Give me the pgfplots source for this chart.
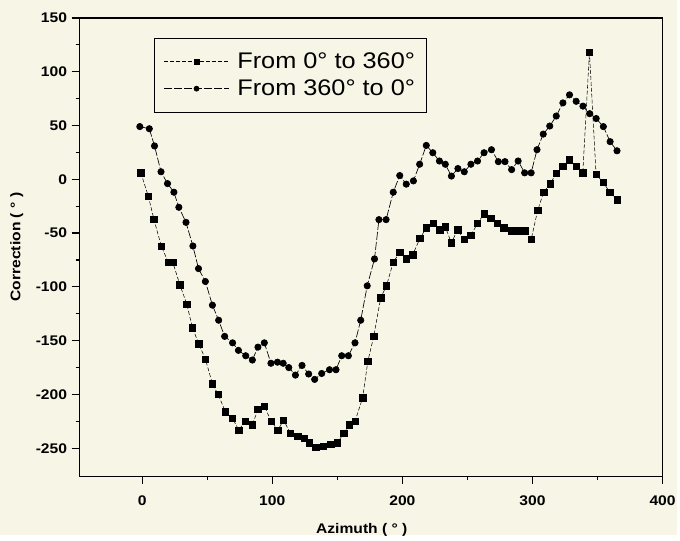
\documentclass[border=0pt]{standalone}
\usepackage{graphicx}
\usepackage{fontspec}
\setmainfont{Liberation Sans}
\usepackage{pgfplots}
\pgfplotsset{compat=1.18}
\definecolor{bgcream}{RGB}{247,245,230}
\newcommand{\sx}[1]{\scalebox{1.12}[1]{#1}}
\begin{document}
\begin{tikzpicture}
\fill[bgcream] (-60pt,-44.25pt) rectangle (450pt,358.5pt);
\begin{axis}[
  scale only axis,
  width=438.75pt, height=345pt,
  xmin=-48, xmax=400, ymin=-276, ymax=150,
  xtick={0,100,200,300,400},
  ytick={-250,-200,-150,-100,-50,0,50,100,150},
  minor x tick num=1, minor y tick num=1,
  tick align=outside,
  xtick pos=left, ytick pos=left,
  major tick length=6pt, minor tick length=3pt,
  axis line style={line width=1pt},
  every tick/.style={line width=0.9pt, black},
  /pgf/number format/assume math mode=true,
  tick label style={font=\fontsize{10.5}{12}\selectfont\bfseries},
  xticklabel style={yshift=-5.5pt},
  xticklabel={\sx{\pgfmathprintnumber{\tick}}},
  yticklabel={\sx{\pgfmathprintnumber{\tick}}},
  xlabel={\sx{Azimuth ( ° )}},
  ylabel={\sx{Correction ( ° )}},
  label style={font=\fontsize{10.5}{12}\selectfont\bfseries},
  xlabel style={at={(axis description cs:0.484,-0.117)}, anchor=center},
  ylabel style={at={(axis description cs:-0.108,0.5)}, anchor=center},
  legend style={at={(axis description cs:0.128,0.957)}, anchor=north west,
    draw=black, line width=0.7pt, fill=none,
    font=\fontsize{17}{19.5}\selectfont, inner xsep=7pt, inner ysep=9pt,
    row sep=3pt},
  legend cell align=left,
  legend image code/.code={\draw[#1, mark size=1.9pt, mark repeat=2, mark phase=2] plot coordinates {(0cm,0cm) (0.85cm,0cm) (1.7cm,0cm)}; \path (1.85cm,0cm);},
]
\addplot[black, line width=0.4pt, dash pattern=on 3pt off 1.5pt, mark=square*, mark size=2.4pt, mark options={solid}] coordinates {
(-1,6) (4.8,-16) (9,-37) (14.7,-62) (20,-77) (23.5,-77) (29,-98) (34.3,-116)
(38.7,-138) (43.5,-153) (48.6,-167) (54,-190) (58.4,-200) (64,-216) (69.3,-222)
(74.3,-233) (79.3,-225) (84.7,-228) (89,-214) (94,-211) (99.2,-225) (104.3,-233)
(108.7,-224) (114,-236) (119.5,-239) (124.5,-241) (128.5,-245) (133.5,-249)
(139,-248) (145,-246) (150,-245) (155,-236) (159,-228) (163.6,-225) (169.5,-203)
(173.5,-169) (178,-146) (183.4,-110) (187.8,-99) (193,-77) (198,-68) (203,-74)
(208,-70) (213.5,-55) (218.5,-45) (223.7,-41) (228.8,-47) (233,-44) (237.6,-59)
(242.5,-47) (247.6,-56) (252.7,-52) (257.8,-41) (262.8,-32) (268,-36) (273,-41)
(278,-45) (284,-48) (289,-48) (294,-48) (299,-56) (304,-29) (308.6,-12)
(313.7,-4) (318.3,5.5) (323.4,12) (328.5,18) (333.6,12) (338.7,6) (343.8,118)
(348.9,4.6) (354.4,-3) (359.5,-12) (365.4,-19)
};
\addlegendentry{\sx{From 0° to 360°}}
\addplot[black, line width=0.5pt, dash pattern=on 6pt off 1.5pt, mark=*, mark size=2.4pt, mark options={solid}] coordinates {
(-1.8,49) (5.5,47) (9.5,31) (14.5,7) (19.5,-4) (24.4,-12) (28.2,-26) (33.7,-40)
(39,-62) (43.3,-83) (48.6,-95) (54,-117) (58.8,-131) (63.4,-146) (69.5,-152)
(74,-159) (79.6,-164) (84.7,-168) (89,-156) (93.9,-152) (99,-171) (104,-170)
(108.4,-171) (112.7,-175) (117.8,-182) (122.9,-173) (128,-181) (132.6,-186)
(138,-180.5) (144,-177) (149,-177) (153.4,-164) (158.5,-164) (163.6,-152)
(168,-131) (173,-99) (178.6,-74) (182,-37.5) (187.5,-37.5) (193,-12) (198,3.5)
(203,-4.5) (208.5,-1.5) (213.3,14) (218.4,31.5) (223.4,24.7) (228.5,17) (233,14)
(237.7,3) (242.7,10) (247.6,7) (252.7,14) (257.8,17) (262.8,24.7) (268.5,27.5)
(273.8,16.4) (278.9,16.4) (284,9) (289,17) (294,6) (299,6) (303.5,27.5)
(308.3,42) (313.3,49.5) (318.3,58.8) (323.4,71) (328.5,78.5) (333.6,72.5)
(338.8,68) (344,61) (349,56.5) (354.5,49) (359.7,35) (365,26.5)
};
\addlegendentry{\sx{From 360° to 0°}}
\end{axis}
\end{tikzpicture}
\end{document}
